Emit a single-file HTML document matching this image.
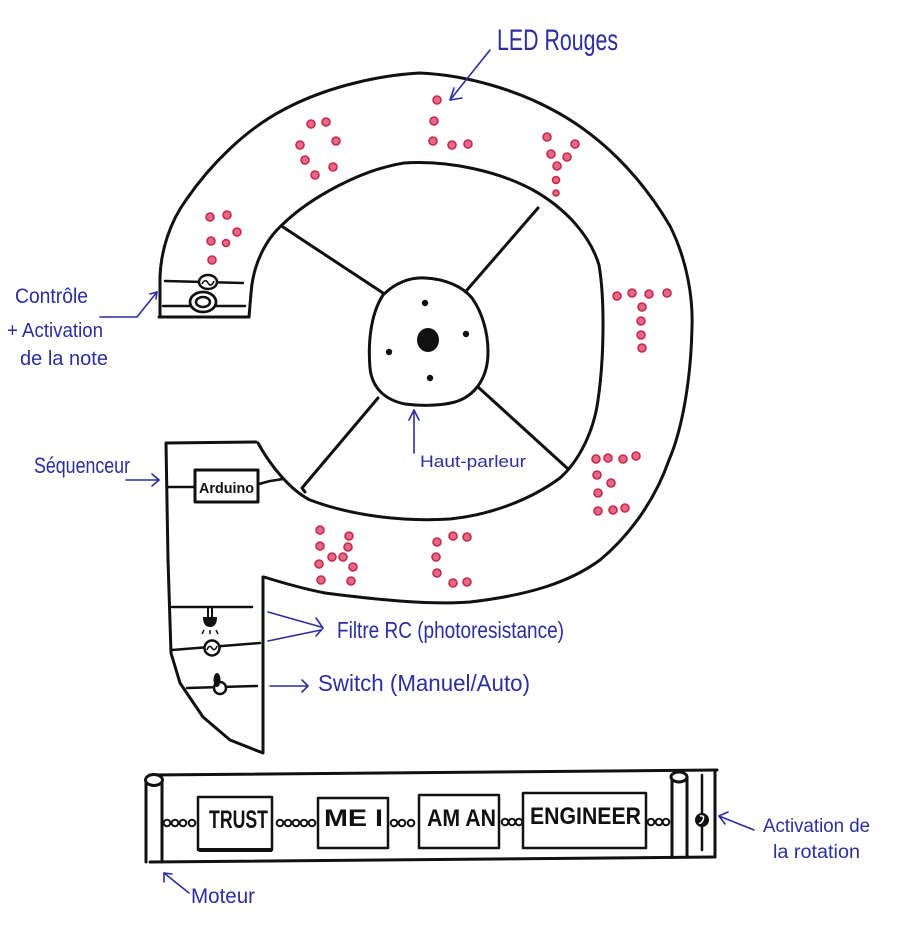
<!DOCTYPE html>
<html><head><meta charset="utf-8"><style>
html,body{margin:0;padding:0;background:#fff;}
svg{display:block;}
.b{fill:none;stroke:#111;stroke-width:3;stroke-linecap:round;stroke-linejoin:round;}
.t{fill:none;stroke:#111;stroke-width:2.5;stroke-linecap:round;stroke-linejoin:round;}
.u{fill:none;stroke:#2a2e9e;stroke-width:1.6;stroke-linecap:round;stroke-linejoin:round;}
.bt{font-family:"Liberation Sans",sans-serif;fill:#2a2e9e;}
.kt{font-family:"Liberation Sans",sans-serif;fill:#111;font-weight:bold;}
.led{fill:#e26a84;stroke:#c8284e;stroke-width:1.6;}
.ch{fill:#fff;stroke:#111;stroke-width:2;}
</style></head><body>
<svg width="900" height="925" viewBox="0 0 900 925" xmlns="http://www.w3.org/2000/svg">
<rect width="900" height="925" fill="#fff"/>

<!-- outer contour -->
<path class="b" d="M160,317 L160,277 C161,250 170,222 186,200 C210,165 245,130 283,110 C320,90 370,76 419,73 C470,75 520,92 553,110 C600,135 640,175 670,226 C688,262 693,300 692,327 C691,380 682,430 669,460 C655,500 630,535 600,560 C570,582 530,595 470,602 C430,605 380,600 325,593 C300,588 280,582 264,577"/>
<!-- top arm end -->
<line class="b" x1="159" y1="317" x2="249" y2="317"/>
<!-- inner contour -->
<path class="b" d="M249,317 L251,293 C253,265 265,240 283,224 C310,198 360,170 404,163 C450,160 500,172 533,190 C565,208 590,235 599,265 C605,300 604,360 598,400 C594,430 580,460 560,478 C530,500 490,515 450,519 C400,522 350,515 310,500 C290,490 270,465 258,443"/>
<!-- spokes -->
<line class="b" x1="283" y1="227" x2="383" y2="293"/>
<line class="b" x1="538" y1="208" x2="467" y2="290"/>
<line class="b" x1="478" y1="387" x2="567" y2="468"/>
<polyline class="b" points="378,398 302,488 305,492"/>
<!-- hub -->
<path class="b" fill="#fff" d="M383,295 C395,283 410,277 425,278 C445,279 462,286 472,298 C482,312 488,332 488,352 C488,378 475,396 455,402 C440,406 420,406 405,404 C385,400 372,388 370,368 C368,345 370,315 383,295 Z"/>
<ellipse cx="428" cy="340" rx="11" ry="12" fill="#111"/>
<circle cx="425" cy="303" r="3.2" fill="#111"/>
<circle cx="466" cy="334" r="3.2" fill="#111"/>
<circle cx="389" cy="352" r="3.2" fill="#111"/>
<circle cx="430" cy="378" r="3.2" fill="#111"/>

<!-- top arm components -->
<line class="t" x1="165" y1="281" x2="243" y2="283"/>
<line class="t" x1="163" y1="306" x2="245" y2="306"/>
<ellipse cx="208" cy="282" rx="9" ry="7" fill="#fff" stroke="#111" stroke-width="2.5"/>
<path d="M202,284 Q205,278 208,283 Q211,288 214,281" fill="none" stroke="#111" stroke-width="1.6"/>
<ellipse cx="203" cy="302" rx="13" ry="10" fill="#fff" stroke="#111" stroke-width="2.8"/>
<ellipse cx="203" cy="302" rx="7" ry="5" fill="none" stroke="#111" stroke-width="2.5"/>

<!-- lower block -->
<polyline class="b" points="256,442 166,443 168,560 171,653 180,683 203,717 230,740 263,753 263,577"/>
<rect x="195" y="470" width="63" height="32" class="b" fill="#fff"/>
<text x="199" y="493" class="kt" font-size="15" textLength="55" lengthAdjust="spacingAndGlyphs">Arduino</text>
<line class="t" x1="168" y1="487" x2="194" y2="487"/>
<polyline class="t" points="259,484 270,481 283,479"/>

<!-- photoresistor row -->
<line class="t" x1="172" y1="607" x2="252" y2="607"/>
<line x1="208" y1="607" x2="208" y2="617" stroke="#111" stroke-width="2"/>
<line x1="212" y1="607" x2="212" y2="617" stroke="#111" stroke-width="2"/>
<path d="M203,617 L217,617 Q217,627 210,627 Q203,627 203,617 Z" fill="#111"/>
<line x1="204" y1="630" x2="202" y2="634" stroke="#111" stroke-width="1.5"/>
<line x1="210" y1="630" x2="210" y2="634" stroke="#111" stroke-width="1.5"/>
<line x1="216" y1="630" x2="218" y2="634" stroke="#111" stroke-width="1.5"/>
<!-- AC row -->
<line class="t" x1="172" y1="650" x2="260" y2="643"/>
<circle cx="212" cy="648" r="7.5" fill="#fff" stroke="#111" stroke-width="2.5"/>
<path d="M207,650 Q209,644 212,648 Q215,652 217,646" fill="none" stroke="#111" stroke-width="1.5"/>
<!-- switch row -->
<line class="t" x1="187" y1="688" x2="257" y2="686"/>
<circle cx="220" cy="688" r="6" fill="#fff" stroke="#111" stroke-width="2.5"/>
<ellipse cx="217" cy="680" rx="3.5" ry="7" fill="#111"/>

<!-- LEDs -->
<g class="led">
<circle cx="210" cy="217" r="4"/><circle cx="227" cy="215" r="4"/><circle cx="211" cy="241" r="4"/><circle cx="237" cy="232" r="4"/><circle cx="226" cy="243" r="3.5"/><circle cx="212" cy="260" r="4"/>
<circle cx="311" cy="124" r="4"/><circle cx="326" cy="122" r="4"/><circle cx="300" cy="145" r="4"/><circle cx="336" cy="141" r="4"/><circle cx="305" cy="160" r="4"/><circle cx="333" cy="167" r="4"/><circle cx="315" cy="175" r="4"/>
<circle cx="437" cy="100" r="4"/><circle cx="434" cy="121" r="4"/><circle cx="433" cy="141" r="4"/><circle cx="452" cy="145" r="4"/><circle cx="468" cy="144" r="4"/>
<circle cx="547" cy="137" r="4"/><circle cx="575" cy="144" r="4"/><circle cx="551" cy="154" r="4"/><circle cx="567" cy="157" r="4"/><circle cx="557" cy="166" r="4"/><circle cx="556" cy="180" r="3.5"/><circle cx="556" cy="193" r="3"/>
<circle cx="617" cy="296" r="4"/><circle cx="632" cy="293" r="4"/><circle cx="649" cy="294" r="4"/><circle cx="667" cy="293" r="4"/><circle cx="642" cy="307" r="4"/><circle cx="641" cy="321" r="4"/><circle cx="641" cy="335" r="4"/><circle cx="642" cy="348" r="4"/>
<circle cx="596" cy="459" r="4"/><circle cx="608" cy="458" r="4"/><circle cx="623" cy="459" r="4"/><circle cx="636" cy="456" r="4"/><circle cx="597" cy="475" r="4"/><circle cx="611" cy="483" r="4"/><circle cx="598" cy="493" r="4"/><circle cx="598" cy="511" r="4"/><circle cx="613" cy="510" r="4"/><circle cx="625" cy="508" r="4"/>
<circle cx="320" cy="530" r="4"/><circle cx="349" cy="536" r="4"/><circle cx="320" cy="546" r="4"/><circle cx="348" cy="547" r="4"/><circle cx="332" cy="557" r="4"/><circle cx="343" cy="557" r="4"/><circle cx="319" cy="564" r="4"/><circle cx="353" cy="567" r="4"/><circle cx="321" cy="580" r="4"/><circle cx="351" cy="581" r="4"/>
<circle cx="437" cy="542" r="4"/><circle cx="453" cy="536" r="4"/><circle cx="467" cy="537" r="4"/><circle cx="436" cy="557" r="4"/><circle cx="437" cy="573" r="4"/><circle cx="453" cy="583" r="4"/><circle cx="467" cy="582" r="4"/>
</g>

<!-- bottom bar -->
<line class="b" x1="150" y1="775" x2="717" y2="770"/>
<line class="b" x1="150" y1="862" x2="715" y2="857" stroke-width="3.5"/>
<line class="b" x1="146" y1="780" x2="146" y2="862"/>
<line class="b" x1="162" y1="781" x2="162" y2="862"/>
<ellipse cx="154" cy="780" rx="8.5" ry="5.5" fill="#fff" stroke="#111" stroke-width="3"/>
<line class="b" x1="672" y1="778" x2="672" y2="857"/>
<line class="b" x1="687" y1="778" x2="687" y2="857"/>
<ellipse cx="679" cy="777" rx="8" ry="5" fill="#fff" stroke="#111" stroke-width="3"/>
<line class="t" x1="702" y1="775" x2="702" y2="850"/>
<line class="b" x1="715" y1="770" x2="715" y2="857"/>
<circle cx="702" cy="820" r="7" fill="#111"/>
<path d="M700,816 Q705,815 703,820 Q701,824 699,823" fill="none" stroke="#fff" stroke-width="1.5"/>

<!-- boxes -->
<rect x="198" y="797" width="74" height="53" class="t" fill="#fff"/>
<line x1="199" y1="850" x2="272" y2="850" stroke="#111" stroke-width="4"/>
<rect x="318" y="798" width="70" height="50" class="t" fill="#fff"/>
<rect x="419" y="795" width="80" height="53" class="t" fill="#fff"/>
<rect x="523" y="793" width="123" height="55" class="t" fill="#fff"/>
<text x="209" y="828" class="kt" font-size="25" textLength="59" lengthAdjust="spacingAndGlyphs">TRUST</text>
<text x="324" y="826" class="kt" font-size="24" textLength="59" lengthAdjust="spacingAndGlyphs">ME I</text>
<text x="427" y="826" class="kt" font-size="24" textLength="69" lengthAdjust="spacingAndGlyphs">AM AN</text>
<text x="530" y="824" class="kt" font-size="24" textLength="111" lengthAdjust="spacingAndGlyphs">ENGINEER</text>

<!-- chains -->
<g class="ch">
<circle cx="167" cy="823" r="3.3"/><circle cx="175" cy="823" r="3.3"/><circle cx="183" cy="823" r="3.3"/><circle cx="192" cy="823" r="3.3"/>
<circle cx="280" cy="823" r="3.3"/><circle cx="288" cy="823" r="3.3"/><circle cx="296" cy="823" r="3.3"/><circle cx="304" cy="823" r="3.3"/><circle cx="312" cy="823" r="3.3"/>
<circle cx="394" cy="823" r="3.3"/><circle cx="402" cy="823" r="3.3"/><circle cx="411" cy="823" r="3.3"/>
<circle cx="505" cy="822" r="3.3"/><circle cx="512" cy="822" r="3.3"/><circle cx="519" cy="822" r="3.3"/>
<circle cx="651" cy="822" r="3.3"/><circle cx="659" cy="822" r="3.3"/><circle cx="666" cy="822" r="3.3"/>
</g>

<!-- blue arrows -->
<line class="u" x1="490" y1="50" x2="450" y2="100"/>
<polyline class="u" points="454,88 450,100 462,98"/>
<polyline class="u" points="100,317 137,317 157,292"/>
<polyline class="u" points="150,294 157,292 156,299"/>
<line class="u" x1="126" y1="480" x2="159" y2="480"/>
<polyline class="u" points="152,474 159,480 152,486"/>
<line class="u" x1="414" y1="453" x2="414" y2="410"/>
<polyline class="u" points="409,420 414,410 419,420"/>
<line class="u" x1="268" y1="612" x2="321" y2="627"/>
<line class="u" x1="268" y1="641" x2="321" y2="630"/>
<polyline class="u" points="316,618 323,628 316,636"/>
<line class="u" x1="270" y1="686" x2="308" y2="686"/>
<polyline class="u" points="302,680 308,686 302,692"/>
<line class="u" x1="189" y1="893" x2="164" y2="873"/>
<polyline class="u" points="164,882 164,873 172,874"/>
<line class="u" x1="754" y1="830" x2="719" y2="816"/>
<polyline class="u" points="728,812 719,816 725,824"/>

<!-- blue labels -->
<text x="497" y="50" class="bt" font-size="30" textLength="121" lengthAdjust="spacingAndGlyphs">LED Rouges</text>
<text x="15" y="303" class="bt" font-size="21" textLength="73" lengthAdjust="spacingAndGlyphs">Contrôle</text>
<text x="7" y="337" class="bt" font-size="20" textLength="96" lengthAdjust="spacingAndGlyphs">+ Activation</text>
<text x="20" y="365" class="bt" font-size="20" textLength="88" lengthAdjust="spacingAndGlyphs">de la note</text>
<text x="34" y="473" class="bt" font-size="22" textLength="96" lengthAdjust="spacingAndGlyphs">Séquenceur</text>
<text x="420" y="467" class="bt" font-size="17" textLength="106" lengthAdjust="spacingAndGlyphs">Haut-parleur</text>
<text x="337" y="638" class="bt" font-size="23" textLength="227" lengthAdjust="spacingAndGlyphs">Filtre RC (photoresistance)</text>
<text x="318" y="691" class="bt" font-size="23" textLength="212" lengthAdjust="spacingAndGlyphs">Switch (Manuel/Auto)</text>
<text x="191" y="903" class="bt" font-size="21" textLength="64" lengthAdjust="spacingAndGlyphs">Moteur</text>
<text x="763" y="832" class="bt" font-size="19" textLength="107" lengthAdjust="spacingAndGlyphs">Activation de</text>
<text x="773" y="858" class="bt" font-size="19" textLength="87" lengthAdjust="spacingAndGlyphs">la rotation</text>
</svg>
</body></html>
